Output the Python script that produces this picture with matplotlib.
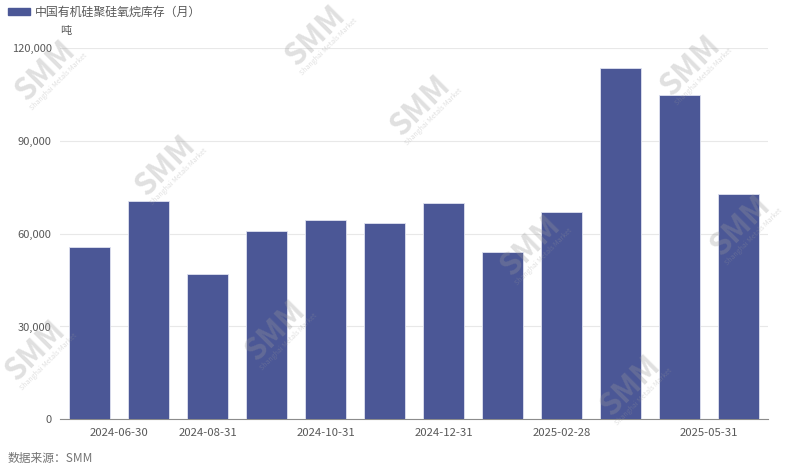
import numpy as np
import matplotlib
matplotlib.use('Agg')
import matplotlib.pyplot as plt
from matplotlib.ticker import FuncFormatter

plt.rcParams['font.family'] = ['Noto Sans CJK SC', 'DejaVu Sans']

# data
dates = ['2024-06-30', '2024-07-31', '2024-08-31', '2024-09-30', '2024-10-31', '2024-11-30',
         '2024-12-31', '2025-01-31', '2025-02-28', '2025-03-31', '2025-04-30', '2025-05-31']
stock = [55700, 70700, 47100, 60700, 64400, 63400, 69900, 54100, 67100, 113400, 104900, 72700]
label_idx = [0, 2, 4, 6, 8, 11]
series_name = '中国有机硅聚硅氧烷库存（月）'
unit = '吨'
source = '数据来源：SMM'

bar_color = '#4b5796'
txt_color = '#595959'

fig = plt.figure(figsize=(7.87, 4.68), dpi=100)
ax = fig.add_axes([60/787, 1-419.3/468, 708/787, (419.3-48)/468])

x = np.arange(len(dates))
ax.bar(x, stock, width=0.69, color=bar_color, edgecolor='#dfe2f0', linewidth=0.6, zorder=3)

ax.set_xlim(-0.5, len(dates)-0.5)
ax.set_ylim(0, 120000)
ax.set_yticks([0, 30000, 60000, 90000, 120000])
ax.yaxis.set_major_formatter(FuncFormatter(lambda v, p: f'{int(v):,}'))
ax.grid(axis='y', color='#e8e8e8', linewidth=0.8, zorder=0)
for s in ['top', 'right', 'left']:
    ax.spines[s].set_visible(False)
ax.spines['bottom'].set_color('#8c8c8c')
ax.tick_params(axis='y', length=0, labelsize=8, colors=txt_color, pad=6)
ax.tick_params(axis='x', length=0, labelsize=8.2, colors=txt_color, pad=6)

ax.set_xticks(label_idx)
ax.set_xticklabels([dates[i] for i in label_idx])
tl = ax.get_xticklabels()
tl[0].set_ha('left')
tl[-1].set_ha('right')

# legend
fig.patches.append(plt.Rectangle((8/787, 1-15/468), 22/787, 7/468, transform=fig.transFigure,
                                  color=bar_color, figure=fig))
fig.text(35/787, 1-12/468, series_name, fontsize=8.6, color=txt_color, va='center')
fig.text(60/787, 1-31/468, unit, fontsize=8, color=txt_color, va='center')
fig.text(8/787, 1-458/468, source, fontsize=8.5, color='#737373', va='center')

# watermarks
wm = [(45, 70), (315, 35), (690, 65), (420, 105), (165, 165), (530, 245), (740, 225),
      (275, 330), (35, 350), (630, 385)]
for px, py in wm:
    fig.text(px/787, 1-py/468, 'SMM', fontsize=22, fontweight='bold', color='#9a9a9a',
             alpha=0.3, rotation=45, ha='center', va='center', style='italic')
    fig.text((px+14)/787, 1-(py+12)/468, 'Shanghai Metals Market', fontsize=5, color='#9a9a9a',
             alpha=0.3, rotation=45, ha='center', va='center')

fig.savefig('out.png', dpi=100)
